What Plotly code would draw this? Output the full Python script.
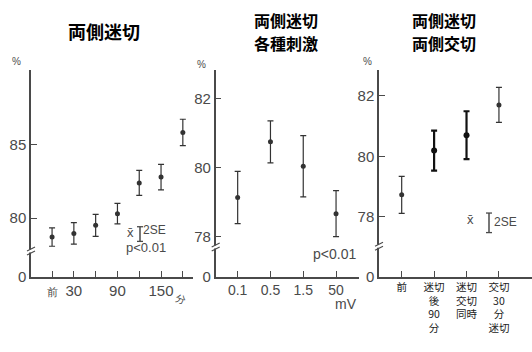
import plotly.graph_objects as go

# Panel 1: bilateral vagotomy, time course (minutes)
minutes = [0, 30, 60, 90, 120, 150, 180]
minute_labels = ["前", "30", "", "90", "", "150", ""]
p1_mean = [78.7, 78.95, 79.5, 80.3, 82.4, 82.8, 85.85]
p1_2se = [0.63, 0.73, 0.75, 0.70, 0.85, 0.87, 0.90]

# Panel 2: bilateral vagotomy, stimulation strength (mV)
stim_labels = ["0.1", "0.5", "1.5", "50"]
p2_mean = [79.13, 80.75, 80.04, 78.66]
p2_2se = [0.76, 0.61, 0.89, 0.67]

# Panel 3: bilateral vagotomy + bilateral sympathectomy
p3_labels = ["前", "迷切<br>後<br>90<br>分", "迷切<br>交切<br>同時", "交切<br>30<br>分<br>迷切"]
p3_mean = [78.73, 80.19, 80.70, 81.70]
p3_2se = [0.61, 0.66, 0.79, 0.58]
p3_bold = [False, True, True, False]

W, H = 532, 352
INK = "#333333"
GRAY = "#4a4a4a"
NUM_FONT = "Liberation Sans Narrow, Liberation Sans, Noto Sans, sans-serif"
JP_FONT = "Noto Sans CJK JP, sans-serif"


def px(x):
    return x / W


def py(y):
    return 1 - y / H


Y_DOM = [py(283), py(72)]

fig = go.Figure()

err_style = dict(type="data", thickness=1.2, width=3, color=INK)

fig.add_trace(go.Scatter(
    x=minutes, y=p1_mean, mode="markers",
    marker=dict(size=5, color=INK),
    error_y=dict(array=p1_2se, **err_style),
    xaxis="x", yaxis="y", showlegend=False))

idx2 = list(range(len(stim_labels)))
fig.add_trace(go.Scatter(
    x=idx2, y=p2_mean, mode="markers",
    marker=dict(size=5, color=INK),
    error_y=dict(array=p2_2se, **err_style),
    xaxis="x2", yaxis="y2", showlegend=False))

for bold in (False, True):
    sel = [i for i, b in enumerate(p3_bold) if b == bold]
    fig.add_trace(go.Scatter(
        x=sel, y=[p3_mean[i] for i in sel], mode="markers",
        marker=dict(size=6 if bold else 5, color="#111111" if bold else INK),
        error_y=dict(type="data", array=[p3_2se[i] for i in sel],
                     thickness=2.2 if bold else 1.2, width=3,
                     color="#111111" if bold else INK),
        xaxis="x3", yaxis="y3", showlegend=False))

axis_common = dict(showline=True, linecolor=GRAY, linewidth=1.5, showgrid=False,
                   zeroline=False, ticks="inside", ticklen=6, tickwidth=1.2,
                   tickcolor=GRAY)
num_font = dict(family=NUM_FONT, size=15, color=GRAY)

fig.update_layout(
    width=W, height=H, margin=dict(l=0, r=0, t=0, b=0),
    paper_bgcolor="white", plot_bgcolor="white",
    xaxis=dict(domain=[px(31), px(193)], range=[-29, 194], anchor="y",
               tickvals=minutes,
               ticktext=[f"<span style='font-size:11px'>{t}</span>" if t == "前" else t
                         for t in minute_labels],
               tickfont=dict(family=NUM_FONT, size=15, color=GRAY), **axis_common),
    yaxis=dict(domain=Y_DOM, range=[76.0, 90.09], anchor="x",
               tickvals=[76, 80, 85], ticktext=["0", "80", "85"],
               tickfont=num_font, **axis_common),
    xaxis2=dict(domain=[px(215.7), px(359)], range=[-0.67, 3.7], anchor="y2",
                tickvals=idx2, ticktext=stim_labels,
                tickfont=dict(family=NUM_FONT, size=14, color=GRAY), **axis_common),
    yaxis2=dict(domain=Y_DOM, range=[76.83, 82.83], anchor="x2",
                tickvals=[76.83, 78, 80, 82], ticktext=["0", "78", "80", "82"],
                tickfont=num_font, **axis_common),
    xaxis3=dict(domain=[px(379), 1.0], range=[-0.70, 4.02], anchor="y3",
                tickvals=list(range(len(p3_labels))), ticktext=p3_labels,
                tickfont=dict(family=JP_FONT, size=10.5, color="#222222"), **axis_common),
    yaxis3=dict(domain=Y_DOM, range=[76.03, 82.84], anchor="x3",
                tickvals=[76.03, 78, 80, 82], ticktext=["0", "78", "80", "82"],
                tickfont=num_font, **axis_common),
)

# Axis break marks on each y-axis
breaks = [("y", "x", 77.75), ("y2", "x2", 77.69), ("y3", "x3", 77.03)]
shapes = []
for yref, xref, yb in breaks:
    shapes.append(dict(type="rect", xref=f"{xref} domain", yref=yref,
                       xsizemode="pixel", ysizemode="pixel", xanchor=0, yanchor=yb,
                       x0=-2, x1=2, y0=-1.5, y1=1.5,
                       fillcolor="white", line=dict(width=0), layer="above"))
    for off in (-2, 2):
        shapes.append(dict(type="line", xref=f"{xref} domain", yref=yref,
                           xsizemode="pixel", ysizemode="pixel", xanchor=0, yanchor=yb,
                           x0=-4, x1=4, y0=off - 2, y1=off + 2,
                           line=dict(color=GRAY, width=1.2), layer="above"))

# Mean ± 2SE key glyphs
for cx, top, bot in [(140, 232, 247), (489, 218, 238)]:
    shapes.append(dict(type="line", xref="paper", yref="paper",
                       x0=px(cx), x1=px(cx), y0=py(top), y1=py(bot),
                       line=dict(color=GRAY, width=1.5)))
    for yy in (top, bot):
        shapes.append(dict(type="line", xref="paper", yref="paper",
                           x0=px(cx - 3), x1=px(cx + 3), y0=py(yy), y1=py(yy),
                           line=dict(color=GRAY, width=1.3)))
fig.update_layout(shapes=shapes)


def note(text, x, y, size, color=GRAY, family=NUM_FONT, bold=False, angle=0):
    fig.add_annotation(text=text, xref="paper", yref="paper", x=px(x), y=py(y),
                       xanchor="center", yanchor="middle", showarrow=False,
                       textangle=angle, borderpad=0,
                       font=dict(family=family, size=size, color=color,
                                 weight="bold" if bold else "normal"))


# Panel titles
note("両側迷切", 104, 32, 18, "#000000", JP_FONT, True)
note("両側迷切", 286, 20.5, 16, "#000000", JP_FONT, True)
note("各種刺激", 286, 43.5, 16, "#000000", JP_FONT, True)
note("両側迷切", 444, 20.5, 16, "#000000", JP_FONT, True)
note("両側交切", 444, 43.5, 16, "#000000", JP_FONT, True)

# Unit labels
note("%", 16, 63, 10)
note("%", 201, 66, 10)
note("%", 367, 63, 10)
note("分", 181, 305, 10, GRAY, JP_FONT, False, 20)
note("mV", 346, 311, 14)

# Key and significance text
note("x̄", 130, 238, 13)
note("2SE", 154, 235, 12)
note("p<0.01", 146, 253, 13)
note("p<0.01", 334, 260, 14)
note("x̄", 470, 225, 13)
note("2SE", 505, 227, 12)

fig.write_html("out.html")
